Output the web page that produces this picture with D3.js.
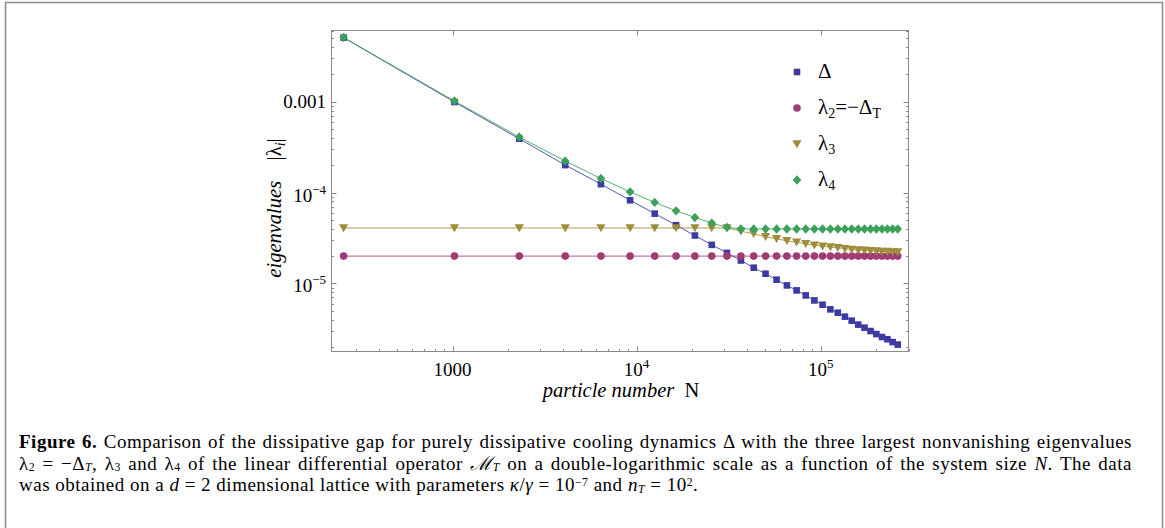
<!DOCTYPE html>
<html>
<head>
<meta charset="utf-8">
<script src="https://cdn.jsdelivr.net/npm/d3@7"></script>
<style>
  body { margin: 0; background: #fff; }
  #fig { position: relative; width: 1165px; height: 528px; overflow: hidden; }
  #fig svg { position: absolute; left: 0; top: 0; }
  .cap { position: absolute; left: 19px; top: 431px; width: 1113px;
         font-family: "Liberation Serif", "Times New Roman", serif; font-size: 19px;
         letter-spacing: 0.5px; line-height: 21.5px; color: #000; }
  .cap div { white-space: nowrap; }
  .cap .j { text-align: justify; text-align-last: justify; }
  .cap sub, .cap sup { display: inline-block; font-size: 0.62em; line-height: 0; position: relative; vertical-align: baseline; }
  .cap sub { top: 0.16em; }
  .cap sup { top: -0.4em; }
</style>
</head>
<body>
<div id="fig"></div>
<script>
// particle numbers N = L^2 on the d = 2 lattice
const N = [256, 1024, 2304, 4096, 6400, 9216, 12544, 16384, 20736, 25600, 30976, 36864,
  43264, 50176, 57600, 65536, 73984, 82944, 92416, 102400, 112896, 123904, 135424, 147456,
  160000, 173056, 186624, 200704, 215296, 230400, 246016, 262144];

// dissipative gap Delta
const DELTA = [5.09e-3, 9.95e-4, 3.92e-4, 2.01e-4, 1.24e-4, 8.24e-5, 5.87e-5, 4.38e-5,
  3.37e-5, 2.66e-5, 2.17e-5, 1.79e-5, 1.49e-5, 1.28e-5, 1.10e-5, 9.51e-6,
  8.38e-6, 7.38e-6, 6.50e-6, 5.83e-6, 5.18e-6, 4.76e-6, 4.31e-6, 3.89e-6,
  3.52e-6, 3.26e-6, 2.99e-6, 2.77e-6, 2.57e-6, 2.43e-6, 2.26e-6, 2.12e-6];

// lambda_2 = -Delta_T
const LAMBDA2 = [2.0e-5, 2.0e-5, 2.0e-5, 2.0e-5, 2.0e-5, 2.0e-5, 2.0e-5, 2.0e-5,
  2.0e-5, 2.0e-5, 2.0e-5, 2.0e-5, 2.0e-5, 2.0e-5, 2.0e-5, 2.0e-5,
  2.0e-5, 2.0e-5, 2.0e-5, 2.0e-5, 2.0e-5, 2.0e-5, 2.0e-5, 2.0e-5,
  2.0e-5, 2.0e-5, 2.0e-5, 2.0e-5, 2.0e-5, 2.0e-5, 2.0e-5, 2.0e-5];

const LAMBDA3 = [4.08e-5, 4.08e-5, 4.08e-5, 4.08e-5, 4.08e-5, 4.08e-5, 4.08e-5, 4.08e-5,
  4.08e-5, 4.08e-5, 4.08e-5, 3.76e-5, 3.52e-5, 3.26e-5, 3.10e-5, 2.94e-5,
  2.84e-5, 2.73e-5, 2.63e-5, 2.57e-5, 2.51e-5, 2.47e-5, 2.41e-5, 2.36e-5,
  2.33e-5, 2.31e-5, 2.29e-5, 2.27e-5, 2.25e-5, 2.24e-5, 2.22e-5, 2.21e-5];

const LAMBDA4 = [5.11e-3, 1.02e-3, 4.09e-4, 2.23e-4, 1.43e-4, 1.02e-4, 7.80e-5, 6.30e-5,
  5.33e-5, 4.62e-5, 4.14e-5, 3.98e-5, 3.98e-5, 3.98e-5, 3.98e-5, 3.98e-5,
  3.98e-5, 3.98e-5, 3.98e-5, 3.98e-5, 3.98e-5, 3.98e-5, 3.98e-5, 3.98e-5,
  3.98e-5, 3.98e-5, 3.98e-5, 3.98e-5, 3.98e-5, 3.98e-5, 3.98e-5, 3.98e-5];

const X_TICKS = [1000, 1e4, 1e5];
const X_LABELS = [["1000", null], ["10", "4"], ["10", "5"]];
const Y_TICKS = [1e-3, 1e-4, 1e-5];
const Y_LABELS = [["0.001", null], ["10", "\u22124"], ["10", "\u22125"]];

const SERIES = [
  { key: "delta", vals: DELTA, color: "#3b3ba3", shape: "square" },
  { key: "l2", vals: LAMBDA2, color: "#a03b73", shape: "circle" },
  { key: "l3", vals: LAMBDA3, color: "#a08d3b", shape: "tri" },
  { key: "l4", vals: LAMBDA4, color: "#3ba058", shape: "diamond" },
];

const W = 1165, H = 528;
const FONT = '"Liberation Serif", "Times New Roman", serif';
const fig = d3.select("#fig");
const svg = fig.append("svg").attr("width", W).attr("height", H)
  .style("font-family", FONT);

// outer figure border
svg.append("rect").attr("x", 5.5).attr("y", 2.5).attr("width", 1157).attr("height", 600)
  .attr("fill", "none").attr("stroke", "#8f8f8f").attr("stroke-width", 1.6);

const x = d3.scaleLog().domain([220, 3e5]).range([331.5, 908.5]);
const y = d3.scaleLog().domain([1.78e-6, 6.1e-3]).range([351.5, 30.5]);
const [x0, x1] = x.range(), [y0, y1] = y.range();

// frame
const frame = svg.append("g").attr("stroke", "#8a8a8a").attr("fill", "none");
frame.append("rect").attr("x", x0).attr("y", y1).attr("width", x1 - x0).attr("height", y0 - y1)
  .attr("stroke-width", 1);

// minor / major log ticks
function logTicks(scale) {
  const [a, b] = scale.domain();
  const out = [];
  for (let e = Math.floor(Math.log10(a)); e <= Math.ceil(Math.log10(b)); e++) {
    for (let m = 1; m <= 9; m++) {
      const v = m * Math.pow(10, e);
      if (v >= a && v <= b) out.push({ v, major: m === 1 });
    }
  }
  return out;
}
const xt = logTicks(x), yt = logTicks(y);
const tk = frame.append("g").attr("stroke-width", 1);
xt.forEach(t => {
  const px = Math.round(x(t.v)) + 0.5, len = t.major ? 5 : 2.5;
  tk.append("line").attr("x1", px).attr("x2", px).attr("y1", y0).attr("y2", y0 - len);
  if (t.major) tk.append("line").attr("x1", px).attr("x2", px).attr("y1", y1).attr("y2", y1 + len);
});
yt.forEach(t => {
  const py = Math.round(y(t.v)) + 0.5, len = t.major ? 5 : 2.5;
  tk.append("line").attr("y1", py).attr("y2", py).attr("x1", x0).attr("x2", x0 + len);
  tk.append("line").attr("y1", py).attr("y2", py).attr("x1", x1).attr("x2", x1 - len);
});

// tick labels
function powLabel(g, base, exp) {
  g.append("tspan").text(base);
  if (exp) g.append("tspan").attr("dy", -8).attr("font-size", 13).text(exp);
}
X_TICKS.forEach((v, i) => {
  const t = svg.append("text").attr("x", x(v)).attr("y", 376)
    .attr("text-anchor", "middle").attr("font-size", 19);
  powLabel(t, X_LABELS[i][0], X_LABELS[i][1]);
});
Y_TICKS.forEach((v, i) => {
  const t = svg.append("text").attr("x", 326).attr("y", y(v) + (Y_LABELS[i][1] ? 9 : 6))
    .attr("text-anchor", "end").attr("font-size", 19);
  powLabel(t, Y_LABELS[i][0], Y_LABELS[i][1]);
});

// axis labels
const xl = svg.append("text").attr("x", (x0 + x1) / 2 + 1).attr("y", 397)
  .attr("text-anchor", "middle").attr("font-size", 20.5);
xl.append("tspan").attr("font-style", "italic").text("particle number");
xl.append("tspan").text("\u2002N");

const yl = svg.append("text").attr("transform", "translate(281,208) rotate(-90)")
  .attr("text-anchor", "middle").attr("font-size", 20.5);
yl.append("tspan").attr("font-style", "italic").text("eigenvalues");
yl.append("tspan").text("\u2003|\u03bb");
yl.append("tspan").attr("font-style", "italic").attr("font-size", 14).attr("dy", 4).text("i");
yl.append("tspan").attr("dy", -4).text("|");

// markers
function marker(g, shape, color) {
  if (shape === "square") g.append("rect").attr("x", -3.3).attr("y", -3.3).attr("width", 6.6).attr("height", 6.6).attr("fill", color);
  else if (shape === "circle") g.append("circle").attr("r", 3.8).attr("fill", color);
  else if (shape === "tri") g.append("path").attr("d", "M-4.6,-3.8L4.6,-3.8L0,4.2Z").attr("fill", color);
  else g.append("path").attr("d", "M0,-4.7L4.3,0L0,4.7L-4.3,0Z").attr("fill", color);
}

const line = d3.line().x(d => x(d[0])).y(d => y(d[1]));
const plot = svg.append("g");
SERIES.forEach(s => {
  const pts = N.map((n, i) => [n, s.vals[i]]);
  plot.append("path").datum(pts).attr("d", line).attr("fill", "none")
    .attr("stroke", s.color).attr("stroke-width", 1).attr("stroke-opacity", 0.85);
});
SERIES.forEach(s => {
  const pts = N.map((n, i) => [n, s.vals[i]]);
  plot.append("g").selectAll("g").data(pts).join("g")
    .attr("transform", d => `translate(${x(d[0])},${y(d[1])})`)
    .each(function () { marker(d3.select(this), s.shape, s.color); });
});

// legend
const LEG_Y = [72, 108, 144, 180];
SERIES.forEach((s, i) => {
  const g = svg.append("g").attr("transform", `translate(797,${LEG_Y[i]})`);
  marker(g, s.shape, s.color);
  const t = svg.append("text").attr("x", 818).attr("y", LEG_Y[i] + 6).attr("font-size", 21);
  if (s.key === "delta") t.text("\u0394");
  else if (s.key === "l2") {
    t.append("tspan").text("\u03bb");
    t.append("tspan").attr("font-size", 14).attr("dy", 4).text("2");
    t.append("tspan").attr("dy", -4).text("=\u2212\u0394");
    t.append("tspan").attr("font-size", 14).attr("dy", 4).text("T");
  } else {
    t.append("tspan").text("\u03bb");
    t.append("tspan").attr("font-size", 14).attr("dy", 4).text(s.key === "l3" ? "3" : "4");
  }
});

// caption
const cap = fig.append("div").attr("class", "cap");
cap.append("div").attr("class", "j").html(
  "<b>Figure 6.</b> Comparison of the dissipative gap for purely dissipative cooling dynamics \u0394 with the three largest nonvanishing eigenvalues");
cap.append("div").attr("class", "j").html(
  "\u03bb<sub>2</sub> = \u2212\u0394<sub><i>T</i></sub>, \u03bb<sub>3</sub> and \u03bb<sub>4</sub> of the linear differential operator <i>\u2133</i><sub><i>T</i></sub> on a double-logarithmic scale as a function of the system size <i>N</i>. The data");
cap.append("div").html(
  "was obtained on a <i>d</i> = 2 dimensional lattice with parameters <i>\u03ba</i>/<i>\u03b3</i> = 10<sup>\u22127</sup> and <i>n</i><sub><i>T</i></sub> = 10<sup>2</sup>.");
</script>
</body>
</html>
